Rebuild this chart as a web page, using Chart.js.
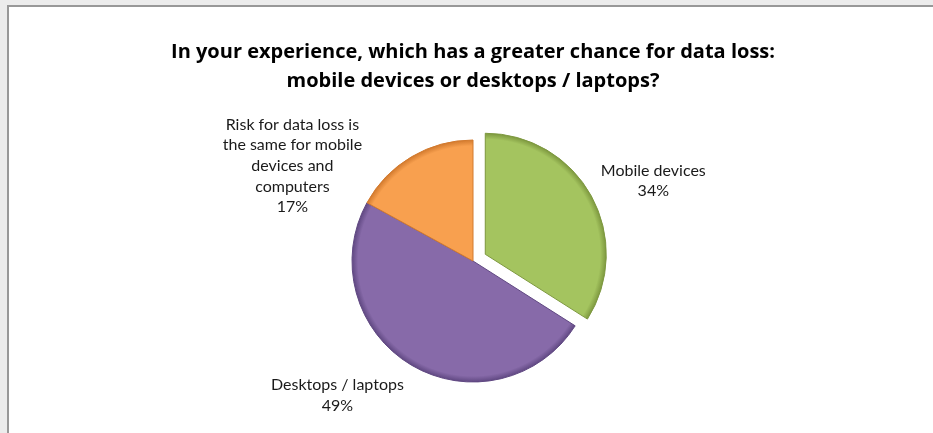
<!DOCTYPE html>
<html>
<head>
<meta charset="utf-8">
<script src="https://cdn.jsdelivr.net/npm/chart.js@4.4.1/dist/chart.umd.min.js"></script>
<style>
    html, body { margin: 0; padding: 0; width: 933px; height: 433px; overflow: hidden; background: #ececec; }
    #frame { position: absolute; left: 7px; top: 5px; width: 950px; height: 450px; background: #fff;
             border-top: 2px solid #989898; border-left: 2px solid #989898; }
    #myChart { position: absolute; left: 0; top: 0; }
</style>
</head>
<body>
<div id="frame"></div>
<canvas id="myChart" width="933" height="433"></canvas>
<script>
const titleLines = [
    'In your experience, which has a greater chance for data loss:',
    'mobile devices or desktops / laptops?'
];
const categories = [
    'Mobile devices',
    'Desktops / laptops',
    'Risk for data loss is the same for mobile devices and computers'
];
const shares = [34, 49, 17];

// styling
const sliceColors = ['#a4c45f', '#876aa9', '#f8a04f'];
const rimColors = ['#7d983f', '#604882', '#d27a2e'];
const explode = [14, 0, 0];
const labelNudge = [[62, -15], [-74, 30], [-119, 9]];

function arcShift(arc, i) {
    const mid = (arc.startAngle + arc.endAngle) / 2;
    return [Math.cos(mid) * explode[i], Math.sin(mid) * explode[i]];
}

function wrap(ctx, text, maxWidth) {
    const words = text.split(' ');
    const lines = [];
    let line = '';
    words.forEach(w => {
        const test = line ? line + ' ' + w : w;
        if (line && ctx.measureText(test).width > maxWidth) {
            lines.push(line);
            line = w;
        } else {
            line = test;
        }
    });
    lines.push(line);
    return lines;
}

const bevelPlugin = {
    id: 'bevel',
    beforeDatasetDraw(chart, args) {
        const ctx = chart.ctx;
        args.meta.data.forEach((arc, i) => {
            const [dx, dy] = arcShift(arc, i);
            arc._home = [arc.x, arc.y];
            arc.x += dx;
            arc.y += dy;
            const r = arc.outerRadius;
            const g = ctx.createRadialGradient(arc.x, arc.y, 0, arc.x, arc.y, r);
            g.addColorStop(0, sliceColors[i]);
            g.addColorStop(0.88, sliceColors[i]);
            g.addColorStop(0.95, sliceColors[i]);
            g.addColorStop(1, rimColors[i]);
            arc.options.backgroundColor = g;
        });
    },
    afterDatasetDraw(chart, args) {
        args.meta.data.forEach(arc => {
            arc.x = arc._home[0];
            arc.y = arc._home[1];
        });
    }
};

const labelPlugin = {
    id: 'sliceLabels',
    afterDatasetsDraw(chart) {
        const ctx = chart.ctx;
        const meta = chart.getDatasetMeta(0);
        const total = shares.reduce((a, b) => a + b, 0);
        ctx.save();
        ctx.font = '16px Lato';
        ctx.fillStyle = '#1a1a1a';
        ctx.textAlign = 'center';
        ctx.textBaseline = 'middle';
        meta.data.forEach((arc, i) => {
            const [dx, dy] = arcShift(arc, i);
            const mid = (arc.startAngle + arc.endAngle) / 2;
            const ox = arc.x + dx + Math.cos(mid) * arc.outerRadius;
            const oy = arc.y + dy + Math.sin(mid) * arc.outerRadius;
            const cx = ox + labelNudge[i][0];
            const cy = oy + labelNudge[i][1];
            const lines = wrap(ctx, categories[i], 150);
            lines.push(Math.round(shares[i] / total * 100) + '%');
            const lh = 20.7;
            const top = cy - (lines.length - 1) * lh / 2;
            lines.forEach((t, k) => ctx.fillText(t, cx, top + k * lh));
        });
        ctx.restore();
    }
};

function build() {
    new Chart(document.getElementById('myChart'), {
        type: 'pie',
        data: {
            labels: categories,
            datasets: [{
                data: shares,
                backgroundColor: sliceColors,
                borderColor: rimColors,
                borderWidth: 1
            }]
        },
        options: {
            responsive: false,
            animation: false,
            radius: 121,
            layout: { padding: { left: 13, right: 0, top: 0, bottom: 16.5 } },
            plugins: {
                legend: { display: false },
                tooltip: { enabled: false },
                title: {
                    display: true,
                    text: titleLines,
                    color: '#000',
                    font: { family: "'Open Sans'", size: 20, weight: 'bold', lineHeight: 1.45 },
                    padding: { top: 37.5, bottom: 10 }
                }
            }
        },
        plugins: [bevelPlugin, labelPlugin]
    });
}

Promise.all([
    document.fonts.load('16px Lato'),
    document.fonts.load("bold 20px 'Open Sans'")
]).then(build, build);
</script>
</body>
</html>
